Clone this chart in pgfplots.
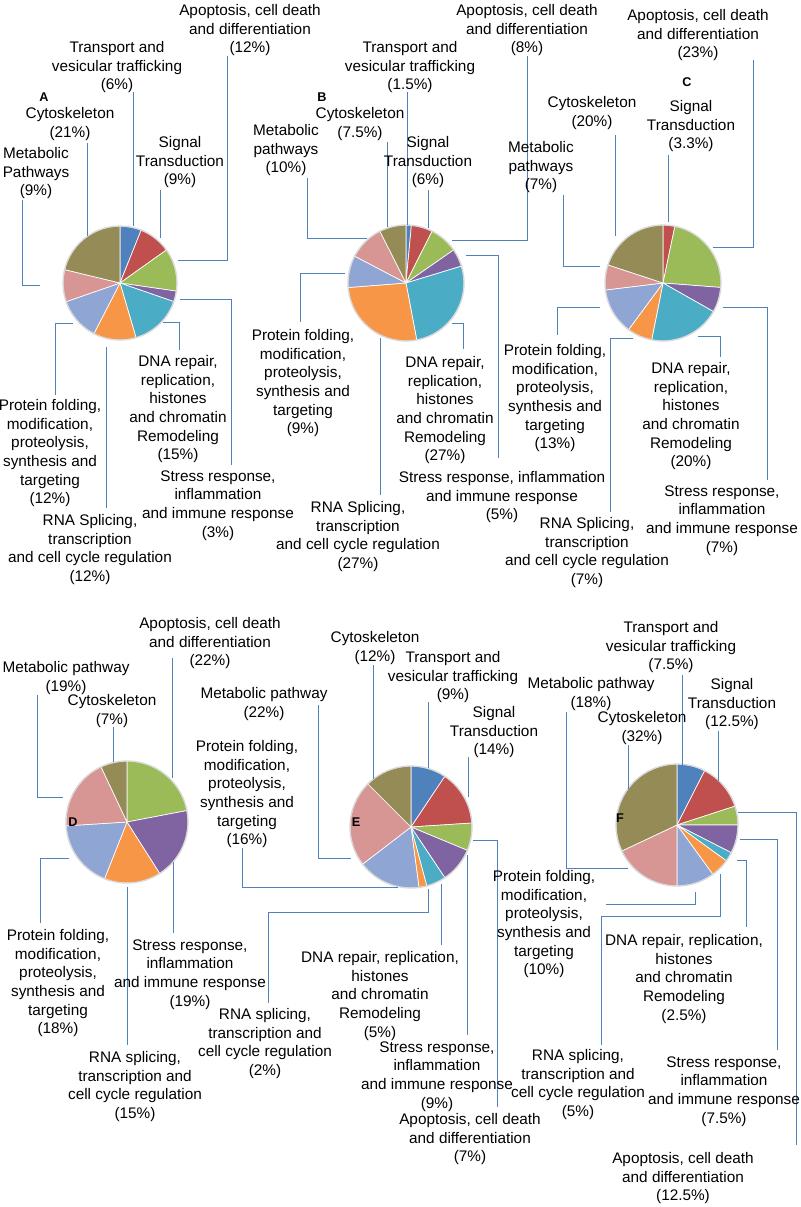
\documentclass[border=0pt]{standalone}
\usepackage{fontspec}
\setmainfont{Liberation Sans}
\usepackage{pgfplots}
\pgfplotsset{compat=1.18}

\definecolor{sblue}{RGB}{79,129,189}
\definecolor{sred}{RGB}{192,80,77}
\definecolor{sgreen}{RGB}{155,187,89}
\definecolor{spurple}{RGB}{128,100,162}
\definecolor{saqua}{RGB}{75,172,198}
\definecolor{sorange}{RGB}{247,150,70}
\definecolor{sltblue}{RGB}{143,165,212}
\definecolor{spink}{RGB}{215,149,148}
\definecolor{solive}{RGB}{148,139,86}
\definecolor{lead}{RGB}{79,129,189}

\newcommand\lbl{\fontsize{11.5}{13.95}\selectfont}

% slice values (percent) and colours, clockwise from 12 o'clock
\def\pieA{6/sblue,9/sred,12/sgreen,3/spurple,15/saqua,12/sorange,12/sltblue,9/spink,21/solive}
\def\pieB{1.5/sblue,6/sred,8/sgreen,5/spurple,27/saqua,27/sorange,9/sltblue,10/spink,7.5/solive}
\def\pieC{3.3/sred,23/sgreen,7/spurple,20/saqua,7/sorange,13/sltblue,7/spink,20/solive}
\def\pieD{22/sgreen,19/spurple,15/sorange,18/sltblue,19/spink,7/solive}
\def\pieE{9/sblue,14/sred,7/sgreen,9/spurple,5/saqua,2/sorange,16/sltblue,22/spink,12/solive}
\def\pieF{7.5/sblue,12.5/sred,5/sgreen,7.5/spurple,2.5/saqua,5/sorange,10/sltblue,18/spink,32/solive}

% #1,#2 centre (px), #3 radius (px), #4 list
\newcommand\drawpie[4]{%
  \gdef\pietot{0}%
  \foreach \v/\c in #4 {\pgfmathparse{\pietot+\v}\xdef\pietot{\pgfmathresult}}%
  \gdef\piecum{0}%
  \foreach \v/\c in #4 {%
    \pgfmathsetmacro\aa{\piecum/\pietot*360}%
    \pgfmathparse{\piecum+\v}\xdef\piecum{\pgfmathresult}%
    \pgfmathsetmacro\bb{\piecum/\pietot*360}%
    \pgfmathsetmacro\sx{#1+#3*sin(\aa)}%
    \pgfmathsetmacro\sy{#2-#3*cos(\aa)}%
    \pgfmathsetmacro\sa{90-\aa}%
    \pgfmathsetmacro\ea{90-\bb}%
    \pgfmathsetmacro\rr{0.75*#3}%
    \edef\temp{\noexpand\fill[\c, draw=white, line width=0.5pt, line join=round]
      (axis cs:#1,#2) -- (axis cs:\sx,\sy) arc[start angle=\sa, end angle=\ea, radius=\rr pt] -- cycle;}%
    \temp
  }%
  \pgfmathsetmacro\rr{0.75*#3}%
  \edef\temp{\noexpand\draw[black!15, line width=1pt] (axis cs:#1,#2) circle[radius=\rr pt];}%
  \temp
}
% label: x centre, y of first line (px)
\newcommand\lab[3]{\node[align=center, font=\lbl, inner sep=0pt, anchor=north, yshift=4.2pt] at (axis cs:#1,#2) {#3};}
\newcommand\panel[3]{\node[font=\bfseries\fontsize{9.5}{10}\selectfont, inner sep=0pt] at (axis cs:#1,#2) {#3};}

\begin{document}
\begin{tikzpicture}
\begin{axis}[
  width=600pt, height=905.25pt, scale only axis,
  xmin=0, xmax=800, ymin=0, ymax=1207, y dir=reverse,
  hide axis, clip=false,
  lead/.style={draw=lead, line width=1.5pt},
]
\coordinate (bl) at (rel axis cs:0,0);
\coordinate (tr) at (rel axis cs:1,1);

% ---------------- A ----------------
\drawpie{120}{283}{57}{\pieA}
\draw[lead] (133,92) -- (133,226);
\draw[lead] (87,143) -- (87,236);
\draw[lead] (160,190) -- (160,238);
\draw[lead] (22,200) -- (22,285) -- (40,285);
\draw[lead] (227,56) -- (227,260) -- (178,260);
\draw[lead] (180,299) -- (231,299) -- (231,465);
\draw[lead] (163,322) -- (179,322) -- (179,350);
\draw[lead] (73,323) -- (55,323) -- (55,395);
\draw[lead] (106,347) -- (106,508);
\panel{44}{97}{A}
\lab{117}{47}{Transport and\\vesicular trafficking\\(6\%)}
\lab{250}{10}{Apoptosis, cell death\\and differentiation\\(12\%)}
\lab{70}{113}{Cytoskeleton\\(21\%)}
\lab{180}{142}{Signal\\Transduction\\(9\%)}
\lab{36}{153}{Metabolic\\Pathways\\(9\%)}
\lab{178}{361}{DNA repair,\\replication,\\histones\\and chromatin\\Remodeling\\(15\%)}
\lab{50}{405}{Protein folding,\\modification,\\proteolysis,\\synthesis and\\targeting\\(12\%)}
\lab{218}{476}{Stress response,\\inflammation\\and immune response\\(3\%)}
\lab{90}{520}{RNA Splicing,\\transcription\\and cell cycle regulation\\(12\%)}

% ---------------- B ----------------
\drawpie{406}{283}{58}{\pieB}
\draw[lead] (407,92) -- (407,225);
\draw[lead] (387,142) -- (387,227);
\draw[lead] (428,190) -- (428,228);
\draw[lead] (527,56) -- (527,240) -- (452,240);
\draw[lead] (466,255) -- (498,255) -- (498,458);
\draw[lead] (452,323) -- (463,323) -- (463,349);
\draw[lead] (380,338) -- (380,495);
\draw[lead] (345,273) -- (300,273) -- (300,322);
\draw[lead] (307,178) -- (307,238) -- (367,238);
\panel{322}{97}{B}
\lab{410}{47}{Transport and\\vesicular trafficking\\(1.5\%)}
\lab{527}{10}{Apoptosis, cell death\\and differentiation\\(8\%)}
\lab{360}{113}{Cytoskeleton\\(7.5\%)}
\lab{428}{142}{Signal\\Transduction\\(6\%)}
\lab{286}{130}{Metabolic\\pathways\\(10\%)}
\lab{303}{335}{Protein folding,\\modification,\\proteolysis,\\synthesis and\\targeting\\(9\%)}
\lab{445}{362}{DNA repair,\\replication,\\histones\\and chromatin\\Remodeling\\(27\%)}
\lab{502}{477}{Stress response, inflammation\\and immune response\\(5\%)}
\lab{358}{507}{RNA Splicing,\\transcription\\and cell cycle regulation\\(27\%)}

% ---------------- C ----------------
\drawpie{663}{283}{58}{\pieC}
\draw[lead] (668,155) -- (668,222);
\draw[lead] (615,135) -- (615,236);
\draw[lead] (563,195) -- (563,266) -- (600,266);
\draw[lead] (753,60) -- (753,247) -- (713,247);
\draw[lead] (723,307) -- (767,307) -- (767,480);
\draw[lead] (698,336) -- (720,336) -- (720,357);
\draw[lead] (633,338) -- (610,338) -- (610,512);
\draw[lead] (600,307) -- (557,307) -- (557,335);
\panel{687}{82}{C}
\lab{698}{15}{Apoptosis, cell death\\and differentiation\\(23\%)}
\lab{592}{102}{Cytoskeleton\\(20\%)}
\lab{691}{106}{Signal\\Transduction\\(3.3\%)}
\lab{541}{147}{Metabolic\\pathways\\(7\%)}
\lab{555}{350}{Protein folding,\\modification,\\proteolysis,\\synthesis and\\targeting\\(13\%)}
\lab{691}{368}{DNA repair,\\replication,\\histones\\and chromatin\\Remodeling\\(20\%)}
\lab{722}{491}{Stress response,\\inflammation\\and immune response\\(7\%)}
\lab{587}{523}{RNA Splicing,\\transcription\\and cell cycle regulation\\(7\%)}

% ---------------- D ----------------
\drawpie{127}{822}{61}{\pieD}
\draw[lead] (172,658) -- (172,778);
\draw[lead] (37,695) -- (37,797) -- (63,797);
\draw[lead] (113,727) -- (113,762);
\draw[lead] (69,858) -- (40,858) -- (40,923);
\draw[lead] (127,887) -- (127,1045);
\draw[lead] (173,862) -- (173,933);
\panel{73}{822}{D}
\lab{210}{623}{Apoptosis, cell death\\and differentiation\\(22\%)}
\lab{66}{667}{Metabolic pathway\\(19\%)}
\lab{112}{700}{Cytoskeleton\\(7\%)}
\lab{58}{935}{Protein folding,\\modification,\\proteolysis,\\synthesis and\\targeting\\(18\%)}
\lab{190}{945}{Stress response,\\inflammation\\and immune response\\(19\%)}
\lab{135}{1057}{RNA splicing,\\transcription and\\cell cycle regulation\\(15\%)}

% ---------------- E ----------------
\drawpie{411}{827}{61}{\pieE}
\draw[lead] (373,665) -- (373,779);
\draw[lead] (428,702) -- (428,768);
\draw[lead] (468,757) -- (468,797);
\draw[lead] (318,705) -- (318,858) -- (351,858);
\draw[lead] (242,848) -- (242,887) -- (398,887);
\draw[lead] (428,889) -- (428,912) -- (268,912) -- (268,1003);
\draw[lead] (441,884) -- (441,945);
\draw[lead] (467,855) -- (467,1035);
\draw[lead] (473,840) -- (497,840) -- (497,1107);
\panel{356}{822}{E}
\lab{375}{637}{Cytoskeleton\\(12\%)}
\lab{453}{657}{Transport and\\vesicular trafficking\\(9\%)}
\lab{264}{693}{Metabolic pathway\\(22\%)}
\lab{494}{712}{Signal\\Transduction\\(14\%)}
\lab{247}{746}{Protein folding,\\modification,\\proteolysis,\\synthesis and\\targeting\\(16\%)}
\lab{380}{957}{DNA repair, replication,\\histones\\and chromatin\\Remodeling\\(5\%)}
\lab{265}{1014}{RNA splicing,\\transcription and\\cell cycle regulation\\(2\%)}
\lab{437}{1047}{Stress response,\\inflammation\\and immune response\\(9\%)}
\lab{470}{1119}{Apoptosis, cell death\\and differentiation\\(7\%)}

% ---------------- F ----------------
\drawpie{677}{825}{61}{\pieF}
\draw[lead] (682,675) -- (682,765);
\draw[lead] (718,731) -- (718,781);
\draw[lead] (628,745) -- (628,789);
\draw[lead] (566,712) -- (566,868) -- (628,868);
\draw[lead] (695,892) -- (695,904) -- (606,904);
\draw[lead] (720,874) -- (720,916) -- (601,916) -- (601,1045);
\draw[lead] (737,860) -- (746,860) -- (746,927);
\draw[lead] (740,839) -- (777,839) -- (777,1050);
\draw[lead] (738,812) -- (796,812) -- (796,1145);
\panel{620}{818}{F}
\lab{671}{627}{Transport and\\vesicular trafficking\\(7.5\%)}
\lab{591}{683}{Metabolic pathway\\(18\%)}
\lab{732}{684}{Signal\\Transduction\\(12.5\%)}
\lab{642}{717}{Cytoskeleton\\(32\%)}
\lab{544}{876}{Protein folding,\\modification,\\proteolysis,\\synthesis and\\targeting\\(10\%)}
\lab{684}{940}{DNA repair, replication,\\histones\\and chromatin\\Remodeling\\(2.5\%)}
\lab{578}{1055}{RNA splicing,\\transcription and\\cell cycle regulation\\(5\%)}
\lab{724}{1062}{Stress response,\\inflammation\\and immune response\\(7.5\%)}
\lab{683}{1158}{Apoptosis, cell death\\and differentiation\\(12.5\%)}
\end{axis}
\pgfresetboundingbox
\useasboundingbox (bl) rectangle (tr);
\end{tikzpicture}
\end{document}
